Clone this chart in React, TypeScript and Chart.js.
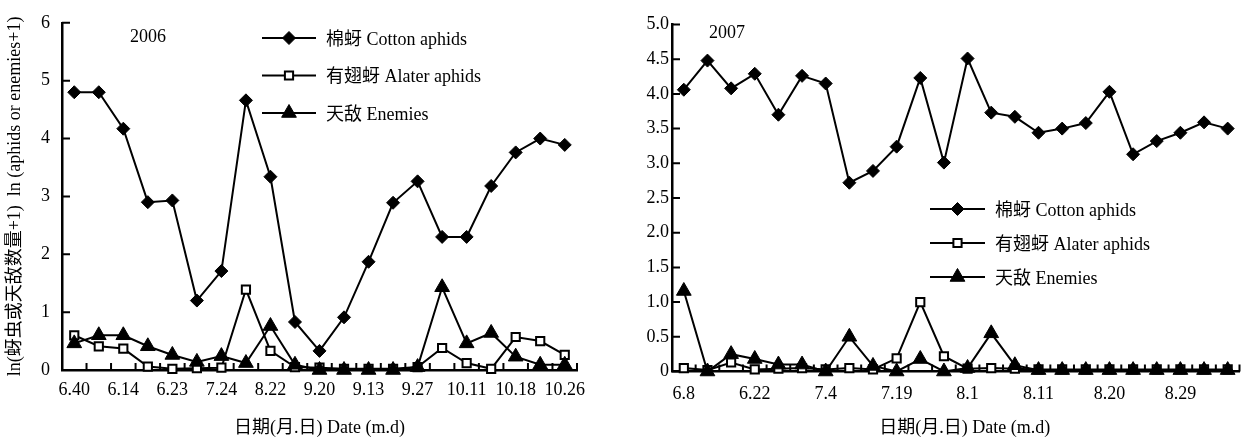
import React, { useEffect, useRef } from 'react';
import { Chart, registerables } from 'chart.js';
Chart.register(...registerables);

const FONT = "'Liberation Serif', 'Times New Roman', 'Noto Sans CJK SC', serif";

// ---- 2006 ----
const labels2006 = ['6.40', '', '6.14', '', '6.23', '', '7.24', '', '8.22', '', '9.20', '', '9.13', '', '9.27', '', '10.11', '', '10.18', '', '10.26'];
const cotton2006 = [4.80, 4.80, 4.17, 2.90, 2.93, 1.20, 1.71, 4.66, 3.34, 0.83, 0.33, 0.91, 1.87, 2.89, 3.26, 2.30, 2.30, 3.18, 3.76, 4.00, 3.89];
const alate2006 = [0.60, 0.41, 0.37, 0.06, 0.02, 0.03, 0.04, 1.39, 0.33, 0.05, 0.04, 0.02, 0.02, 0.02, 0.05, 0.38, 0.12, 0.02, 0.57, 0.50, 0.26];
const enemies2006 = [0.46, 0.60, 0.60, 0.41, 0.26, 0.14, 0.24, 0.12, 0.76, 0.09, 0, 0, 0, 0, 0.05, 1.43, 0.46, 0.64, 0.23, 0.09, 0.09];

// ---- 2007 ----
const labels2007 = ['6.8', '', '', '6.22', '', '', '7.4', '', '', '7.19', '', '', '8.1', '', '', '8.11', '', '', '8.20', '', '', '8.29', '', ''];
const cotton2007 = [4.06, 4.48, 4.08, 4.29, 3.70, 4.26, 4.15, 2.72, 2.89, 3.24, 4.23, 3.01, 4.51, 3.73, 3.67, 3.44, 3.50, 3.58, 4.03, 3.13, 3.32, 3.44, 3.59, 3.50];
const alate2007 = [0.05, 0.02, 0.13, 0.03, 0.04, 0.05, 0.03, 0.05, 0.03, 0.19, 1.00, 0.22, 0.04, 0.05, 0.04, 0.03, 0.03, 0.03, 0.03, 0.03, 0.03, 0.03, 0.03, 0.03];
const enemies2007 = [1.16, 0, 0.25, 0.18, 0.10, 0.10, 0, 0.50, 0.08, 0, 0.18, 0, 0.05, 0.55, 0.09, 0.02, 0.02, 0.02, 0.02, 0.02, 0.02, 0.02, 0.02, 0.02];

const seriesNames = ['棉蚜 Cotton aphids', '有翅蚜 Alater aphids', '天敌 Enemies'];
const yTitle2006 = 'ln(蚜虫或天敌数量+1)  ln (aphids or enemies+1)';
const xTitle = '日期(月.日) Date (m.d)';

function drawMarker(ctx: CanvasRenderingContext2D, style: string, x: number, y: number, r: number, fill: string, bw: number) {
  ctx.save();
  ctx.beginPath();
  if (style === 'rectRot') {
    ctx.moveTo(x, y - r);
    ctx.lineTo(x + r, y);
    ctx.lineTo(x, y + r);
    ctx.lineTo(x - r, y);
    ctx.closePath();
  } else if (style === 'rect') {
    const s = Math.SQRT1_2 * r;
    ctx.rect(x - s, y - s, 2 * s, 2 * s);
  } else {
    let rad = 0;
    ctx.moveTo(x + Math.sin(rad) * r, y - Math.cos(rad) * r);
    rad += (2 * Math.PI) / 3;
    ctx.lineTo(x + Math.sin(rad) * r, y - Math.cos(rad) * r);
    rad += (2 * Math.PI) / 3;
    ctx.lineTo(x + Math.sin(rad) * r, y - Math.cos(rad) * r);
    ctx.closePath();
  }
  ctx.fillStyle = fill;
  ctx.fill();
  ctx.lineWidth = bw;
  ctx.strokeStyle = '#000';
  ctx.stroke();
  ctx.restore();
}

const decorPlugin = {
  id: 'decor',
  afterDraw(chart: any, _args: any, opts: any) {
    const ctx: CanvasRenderingContext2D = chart.ctx;
    const xs = chart.scales.x;
    const ys = chart.scales.y;
    const area = chart.chartArea;
    ctx.save();
    ctx.strokeStyle = '#000';
    ctx.lineWidth = 2;
    ctx.beginPath();
    const n = xs.getLabels().length;
    for (let i = 0; i <= n; i++) {
      const px = xs.getPixelForValue(i - 0.5);
      ctx.moveTo(px, area.bottom);
      ctx.lineTo(px, area.bottom - opts.xTickLen);
    }
    for (const t of ys.ticks) {
      const py = ys.getPixelForValue(t.value);
      ctx.moveTo(area.left, py);
      ctx.lineTo(area.left + opts.yTickLen, py);
    }
    ctx.stroke();

    ctx.fillStyle = '#000';
    ctx.font = `18px ${FONT}`;
    ctx.textAlign = 'center';
    ctx.textBaseline = 'middle';
    ctx.fillText(opts.year, opts.yearX, opts.yearY);

    chart.data.datasets.forEach((ds: any, i: number) => {
      const y = opts.legendY + i * opts.legendDy;
      ctx.lineWidth = 2;
      ctx.strokeStyle = '#000';
      ctx.beginPath();
      ctx.moveTo(opts.legendX, y);
      ctx.lineTo(opts.legendX + opts.legendLen, y);
      ctx.stroke();
      drawMarker(ctx, ds.pointStyle, opts.legendX + opts.legendLen / 2, y, ds.pointRadius, ds.pointBackgroundColor, ds.pointBorderWidth);
      ctx.fillStyle = '#000';
      ctx.textAlign = 'left';
      ctx.fillText(ds.label, opts.legendX + opts.legendLen + 10, y + 2);
    });
    ctx.restore();
  },
};

function makeDatasets(cotton: number[], alate: number[], enemies: number[]) {
  return [
    {
      label: seriesNames[0], data: cotton, borderColor: '#000', borderWidth: 2,
      pointStyle: 'rectRot', pointRadius: 6.5, pointBackgroundColor: '#000', pointBorderColor: '#000', pointBorderWidth: 1,
      order: 0, clip: false as any, tension: 0,
    },
    {
      label: seriesNames[1], data: alate, borderColor: '#000', borderWidth: 2,
      pointStyle: 'rect', pointRadius: 5.8, pointBackgroundColor: '#fff', pointBorderColor: '#000', pointBorderWidth: 2,
      order: 2, clip: false as any, tension: 0,
    },
    {
      label: seriesNames[2], data: enemies, borderColor: '#000', borderWidth: 2,
      pointStyle: 'triangle', pointRadius: 8.5, pointBackgroundColor: '#000', pointBorderColor: '#000', pointBorderWidth: 1,
      order: 1, clip: false as any, tension: 0,
    },
  ];
}

type Cfg = {
  labels: string[]; cotton: number[]; alate: number[]; enemies: number[];
  yMax: number; yStep: number; yFmt: (v: number) => string; yTitle: string | null;
  yWidth: number; xHeight: number; padRight: number; padTop: number;
  yPad: number; xPad: number; xTitle: string; decor: any;
};

function ChartPanel({ cfg, width, height, left }: { cfg: Cfg; width: number; height: number; left: number }) {
  const ref = useRef<HTMLCanvasElement | null>(null);
  useEffect(() => {
    if (!ref.current) return;
    Chart.defaults.font.family = FONT;
    Chart.defaults.font.size = 18;
    Chart.defaults.color = '#000';
    const chart = new Chart(ref.current, {
      type: 'line',
      data: { labels: cfg.labels, datasets: makeDatasets(cfg.cotton, cfg.alate, cfg.enemies) as any },
      options: {
        animation: false,
        responsive: false,
        layout: { padding: { left: 0, right: cfg.padRight, top: cfg.padTop, bottom: 0 } },
        plugins: { legend: { display: false }, tooltip: { enabled: false }, decor: cfg.decor } as any,
        scales: {
          x: {
            type: 'category',
            offset: true,
            grid: { display: false, drawTicks: false },
            border: { display: true, color: '#000', width: 2.5 },
            ticks: { autoSkip: false, maxRotation: 0, minRotation: 0, padding: cfg.xPad, color: '#000', font: { size: 18, family: FONT } },
            title: { display: true, text: cfg.xTitle, color: '#000', font: { size: 18, family: FONT }, padding: { top: 0, bottom: 2 } },
            afterFit: (s: any) => { s.height = cfg.xHeight; },
          },
          y: {
            min: 0, max: cfg.yMax,
            grid: { display: false, drawTicks: false },
            border: { display: true, color: '#000', width: 2.5 },
            ticks: { stepSize: cfg.yStep, padding: cfg.yPad, color: '#000', font: { size: 18, family: FONT }, callback: (v: any) => cfg.yFmt(Number(v)) },
            title: cfg.yTitle ? { display: true, text: cfg.yTitle, color: '#000', font: { size: 18, family: FONT }, padding: { top: 4, bottom: 0 } } : { display: false },
            afterFit: (s: any) => { s.width = cfg.yWidth; },
          },
        },
      } as any,
      plugins: [decorPlugin],
    });
    return () => chart.destroy();
  }, [cfg]);
  return (
    <canvas ref={ref} width={width} height={height} style={{ position: 'absolute', left, top: 0, width, height }} />
  );
}

const cfg2006: Cfg = {
  labels: labels2006, cotton: cotton2006, alate: alate2006, enemies: enemies2006,
  yMax: 6, yStep: 1, yFmt: (v) => String(v), yTitle: yTitle2006,
  yWidth: 62, xHeight: 71, padRight: 43, padTop: 20, yPad: 12, xPad: 9, xTitle: xTitle,
  decor: { xTickLen: 7, yTickLen: 8, year: '2006', yearX: 148, yearY: 37, legendX: 262, legendLen: 54, legendY: 38, legendDy: 37.5 },
};

const cfg2007: Cfg = {
  labels: labels2007, cotton: cotton2007, alate: alate2007, enemies: enemies2007,
  yMax: 5, yStep: 0.5, yFmt: (v) => (v === 0 ? '0' : v.toFixed(1)), yTitle: null,
  yWidth: 52, xHeight: 69.5, padRight: 6, padTop: 24.5, yPad: 3, xPad: 12, xTitle: '    ' + xTitle,
  decor: { xTickLen: 7, yTickLen: 8, year: '2007', yearX: 107, yearY: 33, legendX: 310, legendLen: 55, legendY: 209, legendDy: 34 },
};

export default function App() {
  return (
    <div style={{ position: 'absolute', left: 0, top: 0, width: 1249, height: 441, background: '#fff', overflow: 'hidden' }}>
      <ChartPanel cfg={cfg2006} width={620} height={441} left={0} />
      <ChartPanel cfg={cfg2007} width={629} height={441} left={620} />
    </div>
  );
}
